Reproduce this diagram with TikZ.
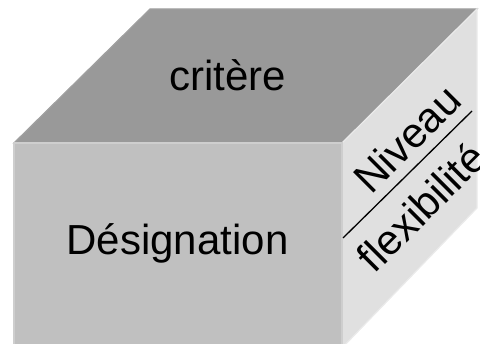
\documentclass[tikz,border=0pt]{standalone}
\usepackage{fontspec}
\setmainfont{Liberation Sans}
\begin{document}
\begin{tikzpicture}[x=1pt,y=-1pt,
  face/.style={line width=1.2pt, line join=miter},
  label/.style={inner sep=0pt, font=\fontsize{42}{50}\selectfont, text=black},
  divider/.style={draw=black, line width=1.3pt}]
  \useasboundingbox (0,0) rectangle (480,344);
  % corners of the block
  \coordinate (ftl) at (14,143);
  \coordinate (ftr) at (342,143);
  \coordinate (fbl) at (14,348);
  \coordinate (fbr) at (342,348);
  \coordinate (btl) at (150,9);
  \coordinate (btr) at (477,9);
  \coordinate (bbr) at (477,208);
  % faces
  \filldraw[face, fill={rgb,255:red,153;green,153;blue,153}, draw={rgb,255:red,160;green,160;blue,160}]
    (ftl) -- (btl) -- (btr) -- (ftr) -- cycle;
  \filldraw[face, fill={rgb,255:red,224;green,224;blue,224}, draw={rgb,255:red,234;green,234;blue,234}]
    (ftr) -- (btr) -- (bbr) -- (fbr) -- cycle;
  \filldraw[face, fill={rgb,255:red,192;green,192;blue,192}, draw={rgb,255:red,206;green,206;blue,206}]
    (ftl) -- (ftr) -- (fbr) -- (fbl) -- cycle;
  % fraction bar on the side face
  \coordinate (d1) at (343,238);
  \coordinate (d2) at (472,111);
  \draw[divider] (d1) -- (d2);
  % texts
  \node[label, anchor=base] (critere) at (228,91) {critère};
  \node[label, anchor=base] (designation) at (177.5,255) {Désignation};
  \node[label, rotate=45] (niveau) at (407,139) {Niveau};
  \node[label, rotate=45] (flex) at (421,207) {flexibilité};
\end{tikzpicture}
\end{document}
